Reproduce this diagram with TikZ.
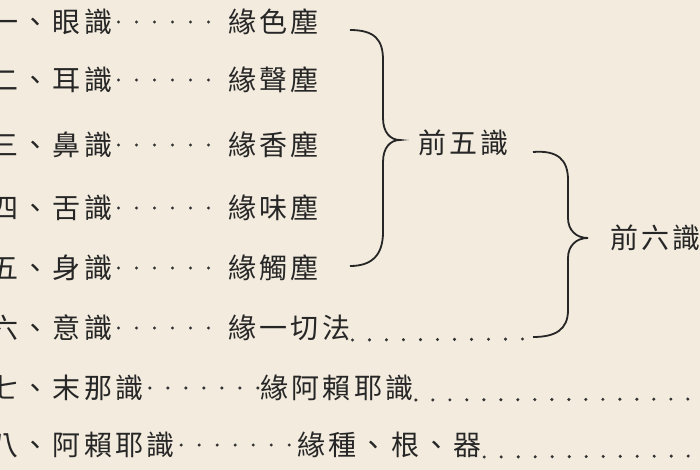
\documentclass[tikz,border=0pt]{standalone}
\usepackage{fontspec}
\newfontfamily\cjk[LetterSpace=12]{Noto Sans CJK TC}
\begin{document}
\begin{tikzpicture}[x=1pt,y=-1pt,
  t/.style={inner sep=0pt,font=\cjk\fontsize{28}{28}\selectfont,text=black!85},
  tw/.style={t,anchor=west},
  md/.style={line width=3.4pt,black!80,line cap=round,dash pattern=on 0pt off 18pt},
  bd/.style={line width=3.4pt,black!80,line cap=round,dash pattern=on 0pt off 17pt},
  br/.style={line width=1.8pt,black!85}]
\fill[fill={rgb,255:red,242;green,235;blue,222}] (0,0) rectangle (700,470);
\useasboundingbox (0,0) rectangle (700,470);
\node[tw] (p1) at (-10,22) {一、眼識};
\node[tw] (p2) at (-10,80) {二、耳識};
\node[tw] (p3) at (-10,145) {三、鼻識};
\node[tw] (p4) at (-10,208) {四、舌識};
\node[tw] (p5) at (-10,268) {五、身識};
\node[tw] (p6) at (-10,328) {六、意識};
\node[tw] (p7) at (-10,388) {七、末那識};
\node[tw] (p8) at (-10,445) {八、阿賴耶識};
\node[tw] (s1) at (228,22) {緣色塵};
\node[tw] (s2) at (228,80) {緣聲塵};
\node[tw] (s3) at (228,145) {緣香塵};
\node[tw] (s4) at (228,208) {緣味塵};
\node[tw] (s5) at (228,268) {緣觸塵};
\node[tw] (s6) at (228,328) {緣一切法};
\node[tw] (s7) at (260,388) {緣阿賴耶識};
\node[tw] (s8) at (297,445) {緣種、根、器};
\foreach \i in {1,...,8}{
  \draw[md] ([xshift=6pt]p\i.east) -- ([xshift=-2pt]s\i.west);
}
\coordinate (e6) at (525,339);
\coordinate (e7) at (705,399);
\coordinate (e8) at (705,456);
\draw[bd] ([xshift=2pt,yshift=-12pt]s6.east) -- (e6);
\draw[bd] ([xshift=2pt,yshift=-12pt]s7.east) -- (e7);
\draw[bd] ([xshift=2pt,yshift=-12pt]s8.east) -- (e8);
\node[tw] (f5) at (418,143) {前五識};
\node[tw] (f6) at (610,238) {前六識};
\coordinate (b1s) at (350,30);
\coordinate (b1e) at (350,266);
\coordinate (b1t) at (400,140);
\draw[br] (b1s) .. controls (375,30) and (383,40) .. (383,60) -- (383,118)
  .. controls (383,132) and (390,140) .. (b1t)
  .. controls (390,140) and (383,148) .. (383,162) -- (383,232)
  .. controls (383,255) and (372,266) .. (b1e);
\coordinate (b2s) at (533,152);
\coordinate (b2e) at (533,337);
\coordinate (b2t) at (588,238);
\draw[br] (b2s) .. controls (558,150) and (568,160) .. (568,180) -- (568,218)
  .. controls (568,230) and (576,238) .. (b2t)
  .. controls (576,238) and (568,246) .. (568,258) -- (568,310)
  .. controls (568,330) and (555,337) .. (b2e);
\end{tikzpicture}
\end{document}
